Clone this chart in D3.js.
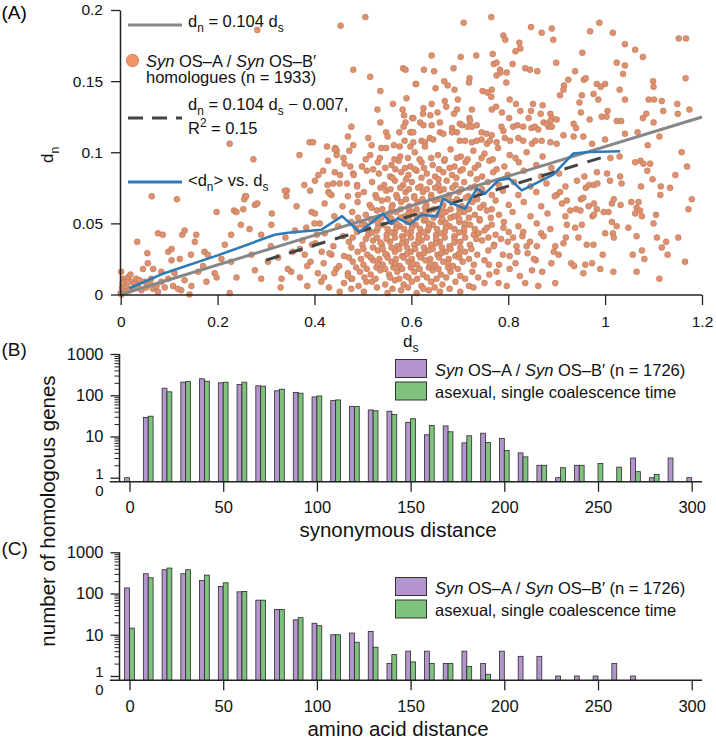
<!DOCTYPE html>
<html><head><meta charset="utf-8">
<script src="https://cdn.jsdelivr.net/npm/d3@7"></script>
<style>body{margin:0;background:#fff}</style>
</head><body>
<svg id="c" width="716" height="741"></svg>
<script>
// ---------------- DATA ----------------
// Panel A : (ds, dn) pairs
const scatterPoints = [
[0.282,0.186],[0.454,0.189],[0.505,0.195],[0.480,0.158],[0.515,0.153],[0.583,0.159],[0.588,0.158],[0.609,0.148],[0.536,0.143],[0.590,0.138],[0.562,0.134],[0.530,0.130],[0.582,0.130],[0.585,0.126],[0.602,0.124],[0.536,0.121],[0.588,0.121],[0.584,0.118],[0.476,0.118],[0.548,0.114],[0.600,0.114],[0.575,0.114],[0.469,0.111],[0.511,0.110],[0.551,0.111],[0.390,0.107],[0.397,0.107],[0.225,0.106],[0.426,0.104],[0.443,0.103],[0.480,0.105],[0.518,0.105],[0.538,0.103],[0.564,0.105],[0.576,0.104],[0.598,0.104],[0.604,0.107],[0.586,0.108],
[0.274,0.095],[0.369,0.098],[0.446,0.101],[0.446,0.098],[0.460,0.096],[0.408,0.084],[0.401,0.080],[0.418,0.087],[0.379,0.077],[0.343,0.073],[0.391,0.073],[0.429,0.072],[0.439,0.078],[0.453,0.084],[0.474,0.090],[0.480,0.085],[0.467,0.078],[0.488,0.077],[0.490,0.070],[0.435,0.070],[0.257,0.069],[0.064,0.069],[0.116,0.067],
[0.034,0.037],[0.077,0.043],[0.087,0.042],[0.127,0.042],[0.132,0.045],[0.055,0.029],[0.098,0.030],[0.105,0.032],[0.122,0.025],[0.156,0.042],[0.153,0.037],[0.145,0.028],[0.105,0.024],[0.198,0.058],[0.173,0.030],[0.180,0.028],[0.170,0.020],[0.160,0.016],[0.194,0.015],[0.198,0.012],[0.177,0.009],[0.146,0.006],[0.125,0.003],[0.142,0.000],[0.225,0.001],[0.234,0.059],[0.239,0.058],[0.255,0.067],[0.259,0.069],[0.277,0.063],[0.282,0.064],[0.253,0.060],[0.228,0.042],[0.248,0.049],[0.266,0.046],[0.270,0.028],[0.290,0.042],[0.311,0.049],[0.312,0.057],[0.339,0.073],[0.342,0.069],[0.363,0.062],[0.428,0.094],[0.442,0.102],[0.427,0.077],[0.383,0.047],[0.394,0.058],[0.370,0.032],[0.380,0.028],[0.392,0.023],[0.407,0.015],[0.414,0.009],[0.435,0.028],[0.445,0.018],[0.452,0.002],[0.469,0.015],[0.476,0.011],[0.507,0.009],[0.504,0.049],[0.290,0.011],[0.332,0.011],[0.352,0.016],[0.304,0.023],[0.277,0.017],[0.239,0.012],[0.228,0.023],[0.208,0.025],[0.215,0.035],
[0.001,0.016],[0.005,0.011],[0.008,0.009],[0.003,0.005],[0.007,0.002],[0.012,0.006],[0.015,0.012],[0.022,0.009],[0.025,0.004],[0.029,0.008],[0.032,0.011],[0.036,0.006],[0.039,0.010],[0.043,0.003],[0.050,0.009],[0.053,0.005],[0.060,0.008],[0.063,0.011],[0.067,0.004],[0.074,0.006],[0.077,0.002],[0.084,0.009],[0.091,0.005],[0.098,0.011],[0.108,0.006],[0.111,0.015],[0.118,0.004],[0.084,0.016],[0.067,0.018],[0.132,0.010],[0.056,0.022],[0.046,0.018],[0.000,0.001],[0.002,0.000],[0.010,0.002],[0.004,0.008],[0.018,0.003],[0.020,0.014],
[0.765,0.195],[0.708,0.191],[0.988,0.191],[0.969,0.185],[1.016,0.184],[0.847,0.188],[0.869,0.184],[0.890,0.187],[0.893,0.179],[0.790,0.182],[0.794,0.179],[0.823,0.177],[0.825,0.173],[0.815,0.171],[0.768,0.169],[0.642,0.168],[0.702,0.167],[0.734,0.168],[0.953,0.170],[1.041,0.176],[1.062,0.172],[1.078,0.167],[1.152,0.180],[1.167,0.180],[0.899,0.163],[1.024,0.163],[1.041,0.161],[0.770,0.162],[0.776,0.163],[0.809,0.162],[0.687,0.159],[0.626,0.158],[0.647,0.157],[0.783,0.158],[0.784,0.156],[0.835,0.159],[0.845,0.158],[0.860,0.157],[0.938,0.157],[0.797,0.156],[0.776,0.154],[1.037,0.155],[0.720,0.152],[0.719,0.149],[0.796,0.149],[0.924,0.151],[0.956,0.151],[0.960,0.152],[0.915,0.147],[0.983,0.148],[1.000,0.148],[0.991,0.146],[0.610,0.148],[0.668,0.150],[0.675,0.147],[1.099,0.150],[1.100,0.146],[1.166,0.152],[0.650,0.145],[0.689,0.144],[0.766,0.144],[0.747,0.143],[0.757,0.142],[0.914,0.144],[1.030,0.144],[0.952,0.140],[0.976,0.141],[0.907,0.140],[0.765,0.139],[1.041,0.137],[0.986,0.137],[0.803,0.137],[0.625,0.131],[0.642,0.134],[0.669,0.136],[0.672,0.132],[0.696,0.137],[0.947,0.135],[0.816,0.134],[0.851,0.134],[0.871,0.133],[1.090,0.137],[1.101,0.137],[1.117,0.136],[1.149,0.134],[1.150,0.127],[1.174,0.130],[1.120,0.129],[1.085,0.127],[1.078,0.124],[1.100,0.121],[1.005,0.129],[0.993,0.125],[1.003,0.125],[1.024,0.122],[1.033,0.122],[0.950,0.128],[0.968,0.123],[0.694,0.130],[0.725,0.130],[0.766,0.130],[0.775,0.132],[0.787,0.128],[0.825,0.129],[0.847,0.129],[0.604,0.124],[0.624,0.127],[0.639,0.126],[0.654,0.128],[0.688,0.127],[0.720,0.124],[0.802,0.124],[0.842,0.124],[0.867,0.127],[0.887,0.127],[0.890,0.124],[0.900,0.123],[0.873,0.121],[0.883,0.118],[0.935,0.120],[0.940,0.117],[1.041,0.113],[1.067,0.114],[1.088,0.105],[1.112,0.111],[1.000,0.109],[0.618,0.121],[0.625,0.119],[0.642,0.119],[0.659,0.121],[0.700,0.120],[0.705,0.119],[0.721,0.122],[0.684,0.117],[0.716,0.118],[0.725,0.118],[0.735,0.119],[0.745,0.114],[0.755,0.113],[0.766,0.112],[0.786,0.118],[0.790,0.115],[0.810,0.118],[0.819,0.119],[0.831,0.118],[0.848,0.117],[0.855,0.118],[0.862,0.116],[0.880,0.120],[0.887,0.122],[0.890,0.118],[0.914,0.112],[0.935,0.111],[0.955,0.111],[0.973,0.106],[0.598,0.114],[0.604,0.114],[0.621,0.108],[0.628,0.107],[0.638,0.110],[0.645,0.109],[0.659,0.114],[0.666,0.113],[0.684,0.114],[0.694,0.114],[0.700,0.108],[0.711,0.108],[0.725,0.107],[0.735,0.108],[0.745,0.109],[0.756,0.106],[0.762,0.108],[0.776,0.107],[0.793,0.110],[0.804,0.108],[0.821,0.110],[0.831,0.108],[0.849,0.106],[0.856,0.108],[0.869,0.108],[0.887,0.107],[0.900,0.106],
[1.158,0.100],[1.169,0.090],[1.179,0.067],[1.172,0.060],[1.145,0.084],[1.134,0.075],[1.115,0.076],[1.114,0.070],[1.098,0.081],[1.087,0.087],[1.073,0.094],[1.079,0.092],[1.093,0.092],[1.062,0.093],[1.074,0.076],[1.069,0.065],[1.054,0.065],[1.065,0.061],[1.072,0.059],[1.062,0.057],[1.076,0.055],[1.105,0.056],[1.100,0.050],[1.048,0.047],[1.065,0.041],[1.107,0.040],[1.151,0.040],[1.126,0.037],[1.117,0.033],[1.129,0.028],[1.076,0.031],[1.081,0.025],[1.057,0.028],[1.165,0.023],[1.065,0.016],[1.112,0.011],[1.017,0.016],[0.990,0.018],[0.973,0.022],[0.959,0.021],[0.930,0.022],[0.936,0.020],[0.955,0.015],[0.897,0.008],[0.862,0.006],[0.835,0.008],[0.849,0.017],[0.857,0.024],[0.853,0.025],[0.889,0.022],[0.904,0.028],[0.894,0.030],[0.897,0.034],[0.914,0.036],[0.919,0.040],[0.945,0.040],[0.962,0.035],[0.976,0.035],[0.995,0.028],[1.000,0.043],[1.016,0.043],[1.018,0.040],[1.014,0.051],[1.024,0.048],[1.007,0.058],[1.014,0.064],[1.018,0.067],[1.032,0.063],[1.031,0.083],[1.034,0.078],[1.004,0.085],[1.010,0.080],[0.997,0.058],[0.983,0.060],[0.974,0.055],[0.977,0.056],[0.952,0.049],[0.921,0.049],[0.938,0.047],[0.918,0.055],[0.928,0.059],[0.940,0.060],[0.949,0.059],[0.911,0.064],[0.921,0.066],[0.900,0.070],[0.907,0.072],[0.950,0.067],[0.955,0.068],[0.966,0.062],[0.977,0.064],[0.960,0.075],[0.967,0.077],[0.977,0.077],[0.984,0.078],[0.942,0.080],[0.957,0.083],[0.918,0.076],[0.983,0.086],[1.011,0.096],[1.030,0.097],
[0.472,0.101],[0.515,0.098],[0.548,0.103],[0.577,0.097],[0.607,0.100],[0.628,0.104],[0.655,0.098],[0.681,0.102],[0.702,0.097],[0.728,0.101],[0.751,0.099],[0.779,0.103],[0.803,0.098],[0.838,0.100],[0.871,0.097],
[0.462,0.092],[0.498,0.090],[0.531,0.093],[0.559,0.091],[0.574,0.094],[0.598,0.090],[0.621,0.093],[0.644,0.091],[0.668,0.094],[0.689,0.090],[0.712,0.093],[0.738,0.091],[0.761,0.094],[0.792,0.090],[0.822,0.093],[0.858,0.091],[0.889,0.089],
[0.442,0.086],[0.481,0.084],[0.508,0.087],[0.533,0.085],[0.556,0.083],[0.579,0.086],[0.594,0.084],[0.611,0.087],[0.632,0.085],[0.649,0.083],[0.666,0.086],[0.684,0.084],[0.701,0.087],[0.722,0.085],[0.746,0.083],[0.769,0.086],[0.799,0.084],[0.832,0.087],[0.868,0.083],[0.905,0.085],
[0.452,0.078],[0.488,0.076],[0.519,0.079],[0.544,0.077],[0.566,0.080],[0.583,0.077],[0.601,0.079],[0.619,0.076],[0.638,0.079],[0.656,0.077],[0.673,0.080],[0.691,0.077],[0.709,0.079],[0.731,0.076],[0.758,0.079],[0.781,0.077],[0.812,0.079],[0.846,0.076],[0.879,0.078],
[0.431,0.071],[0.469,0.069],[0.502,0.072],[0.526,0.070],[0.548,0.073],[0.569,0.070],[0.588,0.072],[0.606,0.069],[0.624,0.072],[0.641,0.070],[0.659,0.073],[0.678,0.070],[0.698,0.072],[0.718,0.069],[0.741,0.072],[0.766,0.070],[0.789,0.073],[0.821,0.070],[0.858,0.072],[0.896,0.069],
[0.421,0.064],[0.458,0.062],[0.489,0.065],[0.514,0.063],[0.539,0.066],[0.561,0.063],[0.579,0.065],[0.596,0.062],[0.613,0.065],[0.631,0.063],[0.648,0.066],[0.666,0.063],[0.684,0.065],[0.704,0.062],[0.726,0.065],[0.749,0.063],[0.774,0.066],[0.801,0.063],[0.832,0.065],[0.868,0.062],
[0.401,0.057],[0.441,0.055],[0.478,0.058],[0.506,0.056],[0.529,0.059],[0.549,0.056],[0.569,0.058],[0.586,0.055],[0.601,0.058],[0.619,0.056],[0.638,0.059],[0.656,0.056],[0.671,0.058],[0.689,0.055],[0.709,0.058],[0.731,0.056],[0.756,0.059],[0.781,0.056],[0.809,0.058],[0.846,0.055],[0.881,0.057],
[0.411,0.050],[0.449,0.048],[0.476,0.051],[0.498,0.049],[0.519,0.052],[0.541,0.049],[0.559,0.051],[0.576,0.048],[0.591,0.051],[0.609,0.049],[0.626,0.052],[0.644,0.049],[0.661,0.051],[0.679,0.048],[0.699,0.051],[0.721,0.049],[0.741,0.052],[0.766,0.049],[0.791,0.051],[0.821,0.048],[0.859,0.050],
[0.421,0.043],[0.459,0.041],[0.488,0.044],[0.511,0.042],[0.529,0.045],[0.549,0.042],[0.566,0.044],[0.581,0.041],[0.599,0.044],[0.616,0.042],[0.634,0.045],[0.651,0.042],[0.669,0.044],[0.689,0.041],[0.709,0.044],[0.729,0.042],[0.751,0.045],[0.774,0.042],[0.801,0.044],[0.829,0.041],[0.868,0.043],
[0.402,0.036],[0.439,0.034],[0.471,0.037],[0.499,0.035],[0.521,0.038],[0.539,0.035],[0.556,0.037],[0.571,0.034],[0.589,0.037],[0.606,0.035],[0.621,0.038],[0.641,0.035],[0.659,0.037],[0.679,0.034],[0.701,0.037],[0.721,0.035],[0.746,0.038],[0.771,0.035],[0.799,0.037],[0.838,0.034],
[0.431,0.029],[0.461,0.027],[0.489,0.030],[0.509,0.028],[0.531,0.031],[0.549,0.028],[0.566,0.030],[0.581,0.027],[0.599,0.030],[0.616,0.028],[0.636,0.031],[0.654,0.028],[0.671,0.030],[0.691,0.027],[0.711,0.030],[0.736,0.028],[0.759,0.031],[0.789,0.028],[0.819,0.030],
[0.419,0.022],[0.451,0.020],[0.479,0.023],[0.501,0.021],[0.521,0.024],[0.541,0.021],[0.559,0.023],[0.576,0.020],[0.594,0.023],[0.611,0.021],[0.629,0.024],[0.649,0.021],[0.666,0.023],[0.686,0.020],[0.706,0.023],[0.729,0.021],[0.751,0.024],[0.781,0.021],
[0.441,0.015],[0.469,0.013],[0.494,0.016],[0.516,0.014],[0.536,0.017],[0.554,0.014],[0.571,0.016],[0.589,0.013],[0.606,0.016],[0.624,0.014],[0.644,0.017],[0.661,0.014],[0.681,0.016],[0.701,0.013],[0.726,0.016],[0.761,0.014],
[0.461,0.008],[0.491,0.006],[0.519,0.009],[0.546,0.007],[0.566,0.010],[0.584,0.007],[0.601,0.009],[0.621,0.006],[0.641,0.009],[0.664,0.007],[0.691,0.009],[0.719,0.006],[0.751,0.008],
[0.502,0.002],[0.551,0.001],[0.579,0.003],[0.611,0.001],[0.636,0.003],[0.659,0.002],[0.701,0.002],
[0.536,0.075],[0.557,0.074],[0.577,0.075],[0.595,0.074],[0.614,0.075],[0.632,0.074],[0.649,0.075],[0.667,0.074],[0.685,0.075],[0.703,0.074],[0.722,0.075],[0.746,0.074],
[0.518,0.061],[0.540,0.060],[0.559,0.061],[0.578,0.060],[0.594,0.061],[0.611,0.060],[0.628,0.061],[0.646,0.060],[0.663,0.061],[0.681,0.060],[0.699,0.061],[0.719,0.060],[0.742,0.061],[0.766,0.060],
[0.490,0.054],[0.516,0.053],[0.538,0.054],[0.559,0.053],[0.578,0.054],[0.595,0.053],[0.611,0.054],[0.629,0.053],[0.646,0.054],[0.664,0.053],[0.681,0.054],[0.699,0.053],[0.719,0.054],[0.741,0.053],[0.764,0.054],
[0.486,0.047],[0.509,0.046],[0.531,0.047],[0.551,0.046],[0.569,0.047],[0.585,0.046],[0.601,0.047],[0.618,0.046],[0.636,0.047],[0.653,0.046],[0.671,0.047],[0.689,0.046],[0.709,0.047],[0.731,0.046],[0.756,0.047],
[0.479,0.040],[0.506,0.039],[0.529,0.040],[0.549,0.039],[0.566,0.040],[0.583,0.039],[0.599,0.040],[0.615,0.039],[0.632,0.040],[0.651,0.039],[0.669,0.040],[0.689,0.039],[0.711,0.040],[0.734,0.039],[0.759,0.040],
[0.476,0.033],[0.501,0.032],[0.521,0.033],[0.541,0.032],[0.559,0.033],[0.575,0.032],[0.591,0.033],[0.608,0.032],[0.626,0.033],[0.644,0.032],[0.663,0.033],[0.681,0.032],[0.701,0.033],[0.724,0.032],
[0.471,0.026],[0.496,0.025],[0.516,0.026],[0.534,0.025],[0.551,0.026],[0.568,0.025],[0.584,0.026],[0.601,0.025],[0.619,0.026],[0.639,0.025],[0.657,0.026],[0.677,0.025],[0.699,0.026],[0.719,0.025],
[0.486,0.019],[0.508,0.018],[0.528,0.019],[0.546,0.018],[0.563,0.019],[0.581,0.018],[0.599,0.019],[0.617,0.018],[0.636,0.019],[0.656,0.018],[0.676,0.019],[0.696,0.018],
[0.528,0.068],[0.551,0.067],[0.571,0.068],[0.589,0.067],[0.606,0.068],[0.623,0.067],[0.641,0.068],[0.659,0.067],[0.676,0.068],[0.694,0.067],[0.713,0.068],[0.736,0.067],
[0.561,0.082],[0.589,0.081],[0.621,0.082],[0.656,0.081],[0.693,0.082],[0.735,0.081],
[0.478,0.011],[0.503,0.012],[0.526,0.011],[0.556,0.012],[0.575,0.011],[0.594,0.012],[0.612,0.011],[0.632,0.012],[0.652,0.011],[0.672,0.012],[0.711,0.011],[0.738,0.012],
[0.476,0.004],[0.529,0.005],[0.561,0.004],[0.593,0.005],[0.625,0.004],[0.648,0.005],[0.679,0.004],[0.728,0.005],
[0.521,0.088],[0.546,0.089],[0.567,0.088],[0.587,0.089],[0.607,0.088],[0.626,0.089],[0.657,0.088],[0.679,0.089],[0.706,0.088],[0.731,0.089],[0.776,0.088],
[0.506,0.095],[0.535,0.096],[0.565,0.095],[0.593,0.096],[0.617,0.095],[0.641,0.096],[0.669,0.095],[0.694,0.096],[0.716,0.095],[0.745,0.096],[0.768,0.095],[0.815,0.096],
[0.531,0.0215],[0.567,0.0215],[0.603,0.0215],[0.639,0.0215],[0.676,0.022],[0.546,0.0285],[0.591,0.0285],[0.626,0.029],[0.662,0.029],[0.699,0.029],
[0.536,0.0365],[0.581,0.036],[0.614,0.0365],[0.651,0.036],[0.689,0.0365],[0.519,0.0435],[0.559,0.0435],[0.591,0.043],[0.626,0.0435],[0.661,0.043],[0.699,0.0435],[0.739,0.043],
[0.531,0.0505],[0.569,0.050],[0.601,0.0505],[0.636,0.050],[0.671,0.0505],[0.711,0.050],[0.556,0.0575],[0.594,0.057],[0.629,0.0575],[0.664,0.057],[0.699,0.0575],
[0.770,0.034],[0.785,0.039],[0.803,0.027],[0.817,0.034],[0.831,0.044],[0.845,0.037],[0.859,0.034],[0.873,0.041],[0.887,0.046],[0.803,0.018],[0.824,0.013],[0.797,0.006],[0.776,0.016],[0.790,0.047],[0.810,0.040],[0.840,0.029],[0.870,0.016],[0.815,0.022],[0.780,0.008],[0.760,0.021],
[0.310,0.034],[0.325,0.026],[0.340,0.040],[0.355,0.030],[0.360,0.045],[0.375,0.038],[0.385,0.020],[0.395,0.035],[0.405,0.042],[0.420,0.012],[0.430,0.005],[0.385,0.006],[0.345,0.018],[0.330,0.005],[0.370,0.012],[0.400,0.050],[0.415,0.030]
];
// <dn> vs ds running mean
const meanCurve = [[0.018,0.0044],[0.09,0.0150],[0.2,0.0275],[0.318,0.042],[0.345,0.0434],[0.414,0.0455],[0.457,0.0551],[0.493,0.0439],[0.541,0.0568],[0.559,0.0498],[0.572,0.0537],[0.597,0.0493],[0.621,0.0561],[0.652,0.0549],[0.666,0.0674],[0.68,0.0646],[0.711,0.0603],[0.735,0.0744],[0.752,0.0709],[0.78,0.0803],[0.802,0.0815],[0.828,0.0732],[0.893,0.0843],[0.934,0.0991],[0.969,0.1002],[1.031,0.1007]];
const neutralSlope = 0.104, neutralRange = [0, 1.2];
const fitSlope = 0.104, fitIntercept = -0.007, fitRange = [0.3, 1.0];
const xTicksA = [0, 0.2, 0.4, 0.6, 0.8, 1, 1.2];
const yTicksA = [0, 0.05, 0.1, 0.15, 0.2];

// Panels B, C : histogram bins
const binCenters = [0,10,20,30,40,50,60,70,80,90,100,110,120,130,140,150,160,170,180,190,200,210,220,230,240,250,260,270,280,290,300];
const synObserved = [1,29,148,208,250,200,182,169,128,116,91,74,53,44,41,22,11,18,7,12,9,4,2,1,2,0,0,3,1,3,1];
const synAsexual  = [0,31,121,215,219,207,207,166,140,112,96,77,53,42,34,27,18.5,13,10.4,7.1,4.6,3.2,2,1.75,2,2.2,1.8,1.4,1.2,0,0];
const aaObserved  = [137,302,378,302,207,148,110,69,41,23,19,10,11,12,2,4,4,2,4,2,4,3,3,1,1,1,2,1,0,0,0];
const aaAsexual   = [14.5,241,415,378,280,182,112,69,41,26,16.6,10,6.6,5,3.3,2.2,2,2,1.7,1.1,0,0,0,0,0,0,0,0,0,0,0];
const histXTicks = [0,50,100,150,200,250,300];
const logMajor = [1,10,100,1000];
const logMinor = [2,3,4,5,6,7,8,9,20,30,40,50,60,70,80,90,200,300,400,500,600,700,800,900];
const legendLabels = ["Syn OS\u2013A / Syn OS\u2013B\u2032 (n = 1726)", "asexual, single coalescence time"];

// ---------------- DRAW ----------------
const FONT = "'Liberation Sans', Arial, Helvetica, sans-serif";
const INK = "#222";
const svg = d3.select("#c").style("font-family", FONT);

function rich(sel, x, y, segs, size) {
  const t = sel.append("text").attr("x", x).attr("y", y).attr("font-size", size).attr("fill", "#111");
  let shift = 0;
  segs.forEach(s => {
    const [str, kind] = Array.isArray(s) ? s : [s, ""];
    const target = kind === "sub" ? size * 0.33 : kind === "sup" ? -size * 0.38 : 0;
    const ts = t.append("tspan").text(str).attr("dy", target - shift);
    if (kind === "sub" || kind === "sup") ts.attr("font-size", size * 0.72);
    if (kind === "it") ts.attr("font-style", "italic");
    shift = target;
  });
  return t;
}
function styleAxis(g, size) {
  g.attr("font-family", FONT).attr("font-size", size);
  g.selectAll("line").attr("stroke", INK).attr("stroke-width", 1.3);
  g.selectAll("path").attr("stroke", INK).attr("stroke-width", 1.5);
  g.selectAll("text").attr("fill", "#111");
}

// ===== Panel A =====
const sx = d3.scaleLinear().domain([0, 1.2]).range([120.7, 702]);
const sy = d3.scaleLinear().domain([0, 0.2]).range([294.5, 10]);
const gA = svg.append("g");

gA.append("g").selectAll("circle").data(scatterPoints).join("circle")
  .attr("cx", d => sx(d[0])).attr("cy", d => sy(d[1])).attr("r", 3)
  .attr("fill", "#de916e").attr("stroke", "#b66e4e").attr("stroke-width", 0.5);

const line = d3.line().x(d => sx(d[0])).y(d => sy(d[1]));
gA.append("path").attr("d", line(neutralRange.map(x => [x, neutralSlope * x])))
  .attr("stroke", "#878787").attr("stroke-width", 3).attr("fill", "none");
gA.append("path").attr("d", line(fitRange.map(x => [x, fitSlope * x + fitIntercept])))
  .attr("stroke", "#444").attr("stroke-width", 3).attr("fill", "none").attr("stroke-dasharray", "14,10");
gA.append("path").attr("d", line(meanCurve))
  .attr("stroke", "#2c7bb8").attr("stroke-width", 2.6).attr("fill", "none").attr("stroke-linejoin", "round");

const axAy = gA.append("g").attr("transform", "translate(120,0)")
  .call(d3.axisLeft(sy).tickValues(yTicksA).tickSize(9).tickPadding(8).tickSizeOuter(0).tickFormat(d => String(d)));
styleAxis(axAy, 15.5);
const axAx = gA.append("g").attr("transform", "translate(0,295)")
  .call(d3.axisBottom(sx).tickValues(xTicksA).tickSize(10).tickPadding(11).tickSizeOuter(0).tickFormat(d => String(d)));
styleAxis(axAx, 15.5);
axAx.select(".domain").attr("d", `M${sx(0)-0.7},0H${sx(1.2)}`);

rich(svg, 403, 346.5, ["d", ["s", "sub"]], 17);
rich(svg.append("g").attr("transform", "translate(53,163) rotate(-90)"), 0, 0, ["d", ["n", "sub"]], 17);
svg.append("text").attr("x", 1.5).attr("y", 19).attr("font-size", 19).text("(A)");

// legend A
const lg = svg.append("g");
lg.append("line").attr("x1", 128).attr("x2", 182).attr("y1", 25).attr("y2", 25).attr("stroke", "#878787").attr("stroke-width", 3);
rich(lg, 188, 27, ["d", ["n", "sub"], " = 0.104 d", ["s", "sub"]], 16.5);
lg.append("circle").attr("cx", 132.5).attr("cy", 60.5).attr("r", 6.2).attr("fill", "#f0966b").attr("stroke", "#c9764f").attr("stroke-width", 0.8);
rich(lg, 146, 66.5, [["Syn", "it"], " OS\u2013A / ", ["Syn", "it"], " OS\u2013B\u2032"], 16.5);
rich(lg, 146, 83, ["homologues (n = 1933)"], 16.5);
lg.append("line").attr("x1", 128).attr("x2", 182).attr("y1", 118).attr("y2", 118).attr("stroke", "#444").attr("stroke-width", 3).attr("stroke-dasharray", "15,9");
rich(lg, 188, 110, ["d", ["n", "sub"], " = 0.104 d", ["s", "sub"], " \u2212 0.007,"], 16.5);
rich(lg, 188, 133.5, ["R", ["2", "sup"], " = 0.15"], 16.5);
lg.append("line").attr("x1", 128).attr("x2", 182).attr("y1", 182).attr("y2", 182).attr("stroke", "#2c7bb8").attr("stroke-width", 3);
rich(lg, 188, 186, ["<d", ["n", "sub"], "> vs. d", ["s", "sub"]], 16.5);

// ===== Panels B, C =====
const hx = d3.scaleLinear().domain([0, 300]).range([129.5, 691.7]);
const barW = hx(2.6) - hx(0);
const PURPLE = "#b495cd", GREEN = "#7ec27d";

function histPanel(obs, asex, yTop, yOne, yBase, title, titleY, label, labelY, legY) {
  const g = svg.append("g");
  const ly = d3.scaleLog().domain([1, 1000]).range([yOne, yTop]);
  const yv = v => v > 0 ? ly(v) : yBase;
  const rows = binCenters.map((c, i) => ({c, o: obs[i], a: asex[i]}));
  g.append("g").selectAll("rect").data(rows.filter(r => r.o > 0)).join("rect")
    .attr("x", r => hx(r.c) - barW).attr("width", barW)
    .attr("y", r => yv(r.o)).attr("height", r => yBase - yv(r.o))
    .attr("fill", PURPLE).attr("stroke", "#2a2a2a").attr("stroke-width", 0.8);
  g.append("g").selectAll("rect").data(rows.filter(r => r.a > 0)).join("rect")
    .attr("x", r => hx(r.c)).attr("width", barW)
    .attr("y", r => yv(r.a)).attr("height", r => yBase - yv(r.a))
    .attr("fill", GREEN).attr("stroke", "#2a2a2a").attr("stroke-width", 0.8);

  // y axis
  const yax = g.append("g").attr("transform", "translate(119.5,0)")
    .call(d3.axisLeft(ly).tickValues(logMajor).tickSize(9).tickPadding(7).tickSizeOuter(0).tickFormat(d3.format("d")));
  styleAxis(yax, 16.5);
  yax.select(".domain").attr("d", `M0,${yBase}V${yTop}`);
  yax.selectAll(".tick text").filter(d => d === 1).attr("y", -4.5).attr("font-size", 15);
  const ymin = g.append("g").attr("transform", "translate(119.5,0)")
    .call(d3.axisLeft(ly).tickValues(logMinor).tickSize(5).tickFormat(""));
  ymin.select(".domain").remove();
  ymin.selectAll("line").attr("stroke", INK).attr("stroke-width", 1);
  g.append("text").attr("x", 103.5).attr("y", yBase + 9.5).attr("dy", "0.32em").attr("text-anchor", "end")
    .attr("font-size", 15).attr("fill", "#111").text("0");

  // x axis
  const xax = g.append("g").attr("transform", `translate(0,${yBase})`)
    .call(d3.axisBottom(hx).tickValues(histXTicks).tickSize(10).tickPadding(10).tickSizeOuter(0));
  styleAxis(xax, 16.5);
  xax.select(".domain").attr("d", `M${hx(-10.5)},0H${hx(305.5)}`);

  g.append("text").attr("x", 398).attr("y", titleY).attr("text-anchor", "middle").attr("font-size", 20.5).attr("fill", "#111").text(title);
  g.append("text").attr("x", 1.5).attr("y", labelY).attr("font-size", 19).attr("fill", "#111").text(label);

  // legend
  [PURPLE, GREEN].forEach((col, i) => {
    g.append("rect").attr("x", 395.5).attr("y", legY + i * 22.5).attr("width", 31).attr("height", 18)
      .attr("fill", col).attr("stroke", "#333").attr("stroke-width", 1);
  });
  rich(g, 435, legY + 16, [["Syn", "it"], " OS\u2013A / ", ["Syn", "it"], " OS\u2013B\u2032 (n = 1726)"], 16.5);
  rich(g, 435, legY + 38, [legendLabels[1]], 16.5);
}

histPanel(synObserved, synAsexual, 354, 477.7, 481.7, "synonymous distance", 537, "(B)", 356, 359.5);
histPanel(aaObserved, aaAsexual, 552.3, 676, 680.3, "amino acid distance", 736, "(C)", 555, 577.5);

svg.append("text").attr("transform", "translate(55,511) rotate(-90)").attr("text-anchor", "middle")
  .attr("font-size", 20.5).attr("fill", "#111").text("number of homologous genes");
</script>
</body></html>
